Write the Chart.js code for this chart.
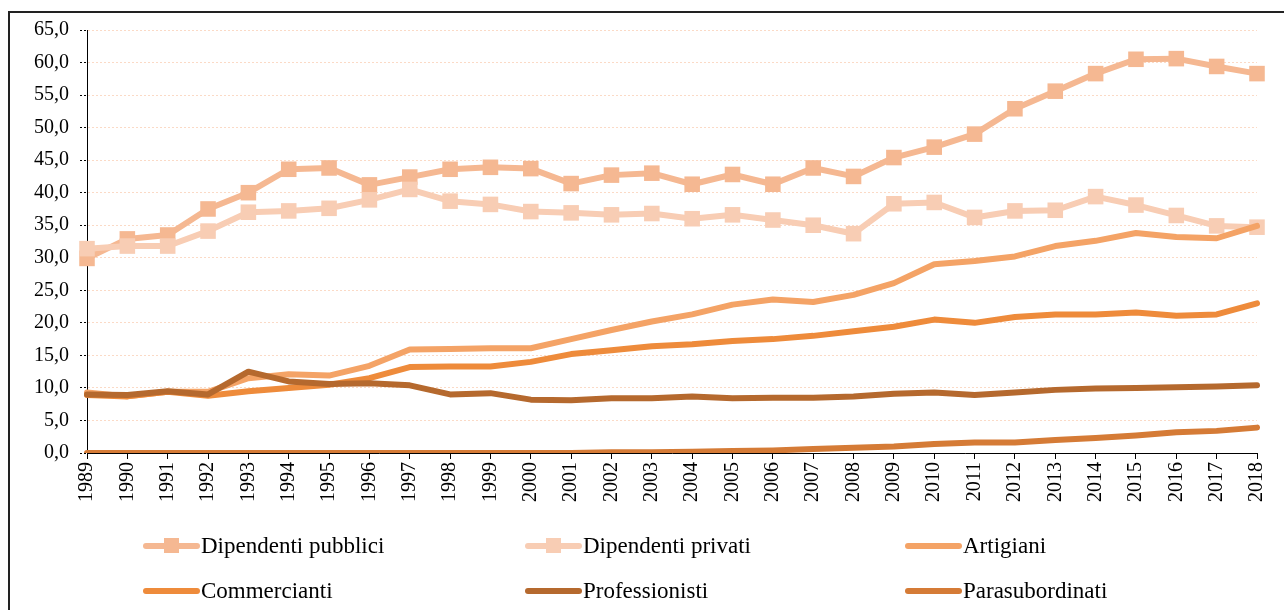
<!DOCTYPE html>
<html>
<head>
<meta charset="utf-8">
<script src="https://cdn.jsdelivr.net/npm/chart.js@4"></script>
<style>
  html, body { margin: 0; padding: 0; background: #fff; }
  #wrap { width: 1284px; height: 610px; position: relative; }
</style>
</head>
<body>
<div id="wrap"><canvas id="chart" width="1284" height="610"></canvas></div>
<script>
// anni
const years = ['1989','1990','1991','1992','1993','1994','1995','1996','1997','1998',
  '1999','2000','2001','2002','2003','2004','2005','2006','2007','2008',
  '2009','2010','2011','2012','2013','2014','2015','2016','2017','2018'];

const pubblici = [29.9, 32.9, 33.5, 37.5, 40.0, 43.6, 43.8, 41.2, 42.4, 43.6,
  43.9, 43.7, 41.4, 42.7, 43.0, 41.3, 42.8, 41.3, 43.8, 42.5,
  45.4, 47.0, 49.0, 52.9, 55.6, 58.3, 60.5, 60.6, 59.4, 58.3];
const privati = [31.4, 31.8, 31.8, 34.1, 37.0, 37.2, 37.6, 38.9, 40.5, 38.7,
  38.2, 37.1, 36.9, 36.6, 36.8, 36.0, 36.6, 35.8, 35.0, 33.7,
  38.3, 38.5, 36.2, 37.2, 37.3, 39.4, 38.1, 36.5, 34.9, 34.7];
const artigiani = [9.3, 8.7, 9.4, 9.4, 11.5, 12.1, 11.9, 13.4, 15.9, 16.0,
  16.1, 16.1, 17.5, 18.9, 20.2, 21.3, 22.8, 23.6, 23.2, 24.3,
  26.1, 29.0, 29.5, 30.2, 31.8, 32.6, 33.8, 33.2, 33.0, 34.9];
const commercianti = [8.9, 8.7, 9.4, 8.8, 9.5, 10.0, 10.5, 11.5, 13.2, 13.3,
  13.3, 14.0, 15.2, 15.8, 16.4, 16.7, 17.2, 17.5, 18.0, 18.7,
  19.4, 20.5, 20.0, 20.9, 21.3, 21.3, 21.6, 21.1, 21.3, 23.0];
const professionisti = [9.0, 8.9, 9.5, 9.0, 12.5, 11.0, 10.6, 10.7, 10.4, 9.0,
  9.2, 8.2, 8.1, 8.4, 8.4, 8.7, 8.4, 8.5, 8.5, 8.7,
  9.1, 9.3, 8.9, 9.3, 9.7, 9.9, 10.0, 10.1, 10.2, 10.4];
const parasubordinati = [0.0, 0.0, 0.0, 0.0, 0.0, 0.0, 0.0, 0.0, 0.0, 0.0,
  0.0, 0.0, 0.0, 0.1, 0.1, 0.2, 0.3, 0.4, 0.6, 0.8,
  1.0, 1.4, 1.6, 1.6, 2.0, 2.3, 2.7, 3.2, 3.4, 3.9];

const yMin = 0, yMax = 65, yStep = 5;

const FONT = '"Liberation Serif", "DejaVu Serif", serif';

function serie(label, data, color, marker, order) {
  return {
    label: label,
    data: data,
    borderColor: color,
    backgroundColor: color,
    borderWidth: 6,
    borderCapStyle: 'round',
    borderJoinStyle: 'round',
    tension: 0,
    pointStyle: marker ? 'rect' : 'circle',
    pointRadius: marker ? 11 : 0,
    pointHoverRadius: marker ? 11 : 0,
    pointBorderWidth: 0,
    pointBackgroundColor: color,
    order: order
  };
}

// cornice esterna
const framePlugin = {
  id: 'frame',
  beforeDraw(chart) {
    const c = chart.ctx;
    c.save();
    c.strokeStyle = '#222';
    c.lineWidth = 2;
    c.strokeRect(9, 12, 1400, 700);
    c.restore();
  }
};

// legenda a 3 colonne
const legendPlugin = {
  id: 'legendGrid',
  afterDraw(chart) {
    const c = chart.ctx;
    const xs = [143, 525, 905];
    const ys = [546, 591];
    c.save();
    chart.data.datasets.forEach((ds, i) => {
      const x = xs[i % 3], y = ys[Math.floor(i / 3)];
      c.strokeStyle = ds.borderColor;
      c.lineWidth = 6;
      c.lineCap = 'round';
      c.beginPath();
      c.moveTo(x + 3, y);
      c.lineTo(x + 54, y);
      c.stroke();
      if (ds.pointStyle === 'rect') {
        c.fillStyle = ds.borderColor;
        c.fillRect(x + 21, y - 8, 15, 15);
      }
      c.fillStyle = '#000';
      c.font = '23px ' + FONT;
      c.textBaseline = 'middle';
      c.textAlign = 'left';
      c.fillText(ds.label, x + 58, y + 1);
    });
    c.restore();
  }
};

new Chart(document.getElementById('chart'), {
  type: 'line',
  data: {
    labels: years,
    datasets: [
      serie('Dipendenti pubblici', pubblici, '#f5b892', true, 6),
      serie('Dipendenti privati', privati, '#f8cdb4', true, 5),
      serie('Artigiani', artigiani, '#f4a366', false, 4),
      serie('Commercianti', commercianti, '#ee8b3b', false, 3),
      serie('Professionisti', professionisti, '#b5692e', false, 2),
      serie('Parasubordinati', parasubordinati, '#d57b36', false, 1)
    ]
  },
  options: {
    responsive: false,
    animation: false,
    layout: { padding: { top: 30, right: 25, left: 0, bottom: 0 } },
    plugins: {
      legend: { display: false },
      tooltip: { enabled: false }
    },
    scales: {
      x: {
        offset: false,
        afterFit(s) { s.height = 157; },
        grid: {
          drawOnChartArea: false,
          drawTicks: true,
          tickLength: 6,
          tickColor: '#000'
        },
        border: { display: true, color: '#000', width: 1 },
        ticks: {
          autoSkip: false,
          minRotation: 90,
          maxRotation: 90,
          padding: 3,
          color: '#000',
          font: { family: FONT, size: 20 }
        }
      },
      y: {
        min: yMin,
        max: yMax,
        afterFit(s) { s.width = 87; },
        grid: {
          color: '#fbdac6',
          lineWidth: 1,
          tickColor: '#000',
          tickLength: 7,
          tickBorderDash: [2, 2]
        },
        border: { display: true, color: '#000', width: 1, dash: [2, 2] },
        ticks: {
          stepSize: yStep,
          padding: 11,
          color: '#000',
          font: { family: FONT, size: 20 },
          callback: v => v.toFixed(1).replace('.', ',')
        }
      }
    }
  },
  plugins: [framePlugin, legendPlugin]
});
</script>
</body>
</html>
